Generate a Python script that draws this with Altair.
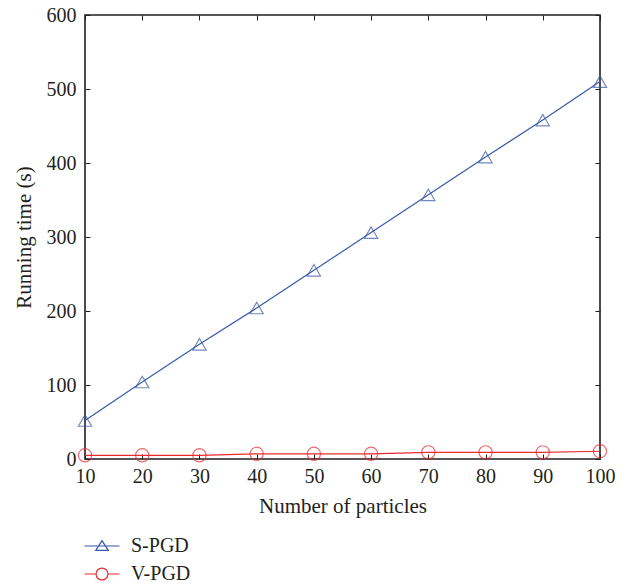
import altair as alt
import pandas as pd

# Running time of the two PGD variants against swarm size
particles = [10, 20, 30, 40, 50, 60, 70, 80, 90, 100]
s_pgd = [52, 104, 155, 204, 255, 306, 357, 408, 458, 510]
v_pgd = [5, 5, 5, 7, 7, 7, 9, 9, 9, 10.5]
series_names = ["S-PGD", "V-PGD"]
series_colors = ["#3a58a8", "#ec2a2e"]
x_ticks = [10, 20, 30, 40, 50, 60, 70, 80, 90, 100]
y_ticks = [0, 100, 200, 300, 400, 500, 600]

rows = []
for name, values in zip(series_names, [s_pgd, v_pgd]):
    for n, t in zip(particles, values):
        rows.append({"particles": n, "time": t, "series": name, "key": name})
df = pd.DataFrame(rows)

FONT = "Liberation Serif"
INK = "#231f20"

x_scale = alt.Scale(domain=[10, 100], nice=False, zero=False)
y_scale = alt.Scale(domain=[0, 600], nice=False, zero=True)
color_scale = alt.Scale(domain=series_names, range=series_colors)

# Bottom / left axes carry the labels; ticks point into the plot box
x_bottom = alt.Axis(orient="bottom", values=x_ticks, offset=-5, tickSize=5, domain=False,
                    grid=False, labelPadding=7, labelFlush=False,
                    title="Number of particles", titlePadding=9)
y_left = alt.Axis(orient="left", values=y_ticks, offset=-5, tickSize=5, domain=False,
                  grid=False, labelPadding=9, labelFlush=False,
                  title="Running time (s)", titlePadding=12)
# Top / right axes only carry inward ticks to close the box
x_top = alt.Axis(orient="top", values=x_ticks, offset=-5, tickSize=5, domain=False,
                 grid=False, labels=False, title=None)
y_right = alt.Axis(orient="right", values=y_ticks, offset=-5, tickSize=5, domain=False,
                   grid=False, labels=False, title=None)

lines = alt.Chart(df).mark_line(strokeWidth=1.2, clip=False).encode(
    x=alt.X("particles:Q", scale=x_scale, axis=x_bottom),
    y=alt.Y("time:Q", scale=y_scale, axis=y_left),
    color=alt.Color("series:N", scale=color_scale, legend=None),
    detail="series:N",
)

points = alt.Chart(df).mark_point(filled=False, size=175, strokeWidth=1.2, clip=False).encode(
    x=alt.X("particles:Q", scale=x_scale, axis=x_top),
    y=alt.Y("time:Q", scale=y_scale, axis=y_right),
    color=alt.Color("series:N", scale=color_scale, legend=None),
    shape=alt.Shape("series:N", scale=alt.Scale(domain=series_names,
                                                range=["triangle-up", "circle"]),
                    legend=None),
)

# Legend glyphs: a line segment with the series marker on it
tri_glyph = "M-2,0H2M0,-0.62L0.72,0.5L-0.72,0.5Z"
circ_glyph = ("M-2,0H-0.68M0.68,0H2"
              "M0.68,0A0.68,0.68 0 1,1 -0.68,0A0.68,0.68 0 1,1 0.68,0Z")

legend_layer = alt.Chart(df).mark_point(filled=False, opacity=0, size=306,
                                        strokeWidth=1.2).encode(
    x=alt.X("particles:Q", scale=x_scale, axis=None),
    y=alt.Y("time:Q", scale=y_scale, axis=None),
    color=alt.Color("key:N", scale=alt.Scale(domain=series_names, range=series_colors),
                    legend=alt.Legend(title=None, orient="none", legendX=7, legendY=521,
                                      symbolOpacity=1, symbolStrokeWidth=1.2,
                                      symbolSize=306, labelFont=FONT, labelFontSize=20,
                                      labelColor=INK, labelOffset=19, rowPadding=8,
                                      padding=0)),
    shape=alt.Shape("key:N", scale=alt.Scale(domain=series_names,
                                             range=[tri_glyph, circ_glyph])),
)

chart = alt.layer(lines, points, legend_layer).resolve_scale(
    color="independent", shape="independent",
).resolve_legend(
    color="independent", shape="independent",
).resolve_axis(
    x="independent", y="independent",
).properties(
    width=515, height=444,
    autosize=alt.AutoSizeParams(type="none"),
    padding={"left": 85, "top": 15, "right": 34, "bottom": 127},
).configure_view(
    stroke=INK, strokeWidth=1.6,
).configure_axis(
    labelFont=FONT, labelFontSize=20, labelColor=INK,
    titleFont=FONT, titleFontSize=21, titleColor=INK, titleFontWeight="normal",
    tickColor=INK, tickWidth=1,
)

chart.save("out.html", embed_options={"renderer": "svg", "actions": False})
